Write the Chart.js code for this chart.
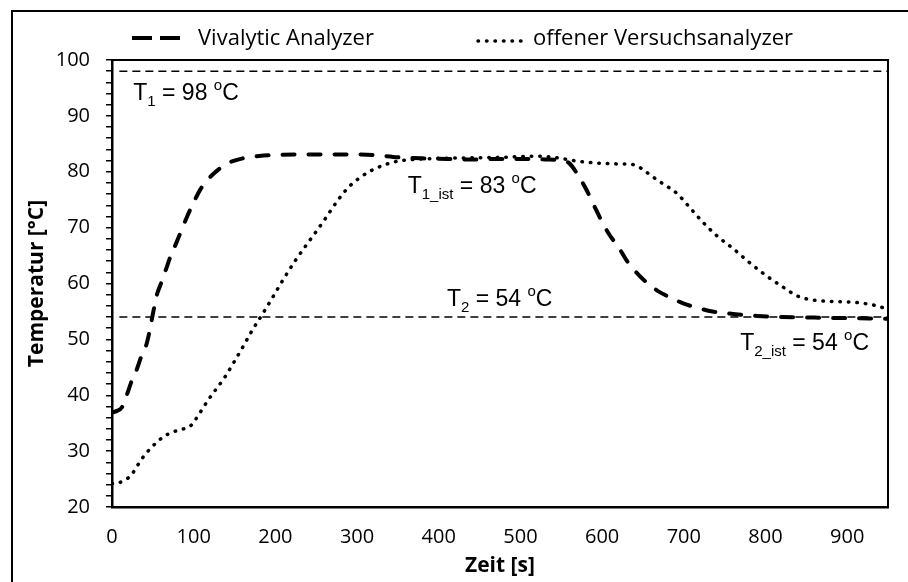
<!DOCTYPE html>
<html>
<head>
<meta charset="utf-8">
<script src="https://cdn.jsdelivr.net/npm/chart.js@4.4.1/dist/chart.umd.min.js"></script>
<style>
  html, body { margin: 0; padding: 0; background: #fff; }
</style>
</head>
<body>
<canvas id="chart_temperatur" width="908" height="582"></canvas>
<script>
// Vivalytic Analyzer (gestrichelt)
const vivTime = [0, 6, 12, 18, 24, 30, 36, 42, 46, 50, 55, 60, 66, 72, 78, 85, 92, 100, 108, 116, 124, 132, 141, 150, 160, 180, 200, 230, 260, 290, 320, 350, 380, 410, 440, 470, 500, 530, 550, 560, 570, 580, 590, 600, 610, 620, 632, 645, 656, 670, 685, 700, 718, 735, 751, 770, 790, 820, 860, 900, 950];
const vivTemp = [36.9, 37.2, 37.8, 40, 42.5, 44.5, 47, 49, 51.5, 54.5, 58, 60, 62.5, 65, 67, 69.5, 72, 74.5, 76.8, 78.4, 79.6, 80.6, 81.5, 82, 82.4, 82.8, 83, 83.1, 83.1, 83.1, 83, 82.6, 82.4, 82.3, 82.2, 82.3, 82.3, 82.2, 82, 81.5, 79.5, 77, 74, 71, 68.5, 66.5, 63.7, 61.5, 60, 58.5, 57.4, 56.4, 55.6, 55, 54.7, 54.4, 54.2, 54, 53.9, 53.8, 53.7];

// offener Versuchsanalyzer (gepunktet)
const offTime = [0, 8, 15, 23, 32, 40, 48, 58, 68, 78, 88, 96, 102, 110, 118, 128, 138, 148, 160, 172, 185, 197, 210, 224, 238, 250, 262, 275, 290, 305, 320, 335, 350, 370, 400, 440, 480, 520, 545, 565, 590, 620, 637, 648, 660, 675, 691, 705, 720, 740, 760, 780, 800, 820, 840, 860, 880, 911, 930, 941, 950];
const offTemp = [24.2, 24.3, 24.8, 25.6, 27.6, 29.3, 30.6, 32, 33, 33.6, 34, 34.5, 35.6, 37.4, 39.2, 41.2, 43.2, 45.6, 48.6, 51.7, 54.7, 57.6, 60.8, 64, 66.9, 69.3, 71.8, 74.6, 77.3, 79.1, 80.4, 81.3, 81.9, 82.2, 82.4, 82.5, 82.6, 82.8, 82.5, 82, 81.6, 81.4, 81.3, 80.6, 79.3, 77.8, 76.2, 74, 71.5, 68.6, 66.3, 63.8, 61.5, 59.5, 57.7, 57, 56.8, 56.6, 56.2, 55.8, 55.4];

// Sollwerte
const setTime = [9, 950];
const setT1 = [98, 98];
const setT2 = [54, 54];

const seriesNames = ['Vivalytic Analyzer', 'offener Versuchsanalyzer'];
const xTickLabels = [0, 100, 200, 300, 400, 500, 600, 700, 800, 900];
const yTickLabels = [20, 30, 40, 50, 60, 70, 80, 90, 100];

// Beschriftungen im Diagramm: [t, T, teile]
const notes = [
  [26, 92.8, [['T', ''], ['1', 'sub'], [' = 98 ', ''], ['o', 'sup'], ['C', '']]],
  [362, 76.2, [['T', ''], ['1_ist', 'sub'], [' = 83 ', ''], ['o', 'sup'], ['C', '']]],
  [410, 56.0, [['T', ''], ['2', 'sub'], [' = 54 ', ''], ['o', 'sup'], ['C', '']]],
  [769, 48.1, [['T', ''], ['2_ist', 'sub'], [' = 54 ', ''], ['o', 'sup'], ['C', '']]]
];

const pts = (xs, ys) => xs.map((x, i) => ({ x: x, y: ys[i] }));

const tickFont = { family: 'Open Sans', size: 20 };
const titleFont = { family: 'Open Sans', size: 21, weight: 'bold' };

function drawRich(ctx, x, y, parts) {
  let cx = x;
  parts.forEach(([txt, kind]) => {
    let dy = 0;
    if (kind === 'sub') { ctx.font = '15px "Liberation Sans"'; dy = 6; }
    else if (kind === 'sup') { ctx.font = '15px "Liberation Sans"'; dy = -10; }
    else { ctx.font = '23px "Liberation Sans"'; }
    ctx.fillText(txt, cx, y + dy);
    cx += ctx.measureText(txt).width;
  });
}

var chart_temperatur = new Chart(document.getElementById('chart_temperatur'), {
  type: 'line',
  data: {
    datasets: [
      {
        label: seriesNames[0],
        data: pts(vivTime, vivTemp),
        borderColor: '#000',
        borderWidth: 4,
        borderDash: [12, 14],
        borderCapStyle: 'round',
        pointRadius: 0,
        cubicInterpolationMode: 'monotone'
      },
      {
        label: seriesNames[1],
        data: pts(offTime, offTemp),
        borderColor: '#000',
        borderWidth: 3.5,
        borderDash: [0.5, 8],
        borderCapStyle: 'round',
        pointRadius: 0,
        cubicInterpolationMode: 'monotone'
      },
      {
        label: 'T1',
        data: pts(setTime, setT1),
        borderColor: '#000',
        borderWidth: 1.5,
        borderDash: [8, 5],
        pointRadius: 0
      },
      {
        label: 'T2',
        data: pts(setTime, setT2),
        borderColor: '#000',
        borderWidth: 1.5,
        borderDash: [8, 5],
        pointRadius: 0
      }
    ]
  },
  options: {
    animation: false,
    responsive: false,
    layout: { padding: { top: 60, right: 20, left: 0, bottom: 0 } },
    plugins: {
      legend: { display: false },
      tooltip: { enabled: false }
    },
    scales: {
      x: {
        type: 'linear',
        min: 0,
        max: 950,
        grid: { display: false, drawTicks: false },
        border: { display: true, color: '#000', width: 2.5 },
        afterBuildTicks: (scale) => { scale.ticks = xTickLabels.map(v => ({ value: v })); },
        ticks: {
          autoSkip: false,
          maxRotation: 0,
          padding: 18,
          color: '#000',
          font: tickFont,
          callback: (v) => String(v)
        },
        title: {
          display: true,
          text: 'Zeit [s]',
          color: '#000',
          font: titleFont,
          padding: { top: 0, bottom: 3 }
        },
        afterFit: (scale) => { scale.height = 75; }
      },
      y: {
        type: 'linear',
        min: 20,
        max: 100,
        grid: { display: true, drawOnChartArea: false, drawTicks: true, tickLength: 6, color: '#000', lineWidth: 1.5 },
        border: { display: true, color: '#000', width: 2.5 },
        ticks: {
          stepSize: 2,
          autoSkip: false,
          padding: 16,
          color: '#000',
          font: tickFont,
          callback: (v) => yTickLabels.includes(v) ? String(v) : ''
        },
        title: {
          display: true,
          text: 'Temperatur [°C]',
          color: '#000',
          font: titleFont,
          padding: { top: 24, bottom: 0 }
        },
        afterFit: (scale) => { scale.width = 112; }
      }
    }
  },
  plugins: [{
    id: 'rahmenUndText',
    beforeDraw: (chart) => {
      const ctx = chart.ctx;
      ctx.save();
      ctx.fillStyle = 'white';
      ctx.fillRect(0, 0, chart.width, chart.height);
      ctx.restore();
    },
    afterDraw: (chart) => {
      const ctx = chart.ctx;
      const a = chart.chartArea;
      const xs = chart.scales.x, ys = chart.scales.y;
      ctx.save();
      ctx.strokeStyle = '#000';
      // Rahmen der Abbildung
      ctx.lineWidth = 2;
      ctx.beginPath();
      ctx.moveTo(12, chart.height);
      ctx.lineTo(12, 11);
      ctx.lineTo(chart.width, 11);
      ctx.stroke();
      // Rahmen des Plotbereichs
      ctx.lineWidth = 2;
      ctx.strokeRect(a.left, a.top, a.right - a.left, a.bottom - a.top);

      // Legende
      ctx.fillStyle = '#000';
      ctx.textBaseline = 'alphabetic';
      ctx.textAlign = 'left';
      ctx.font = '22px "Open Sans"';
      const ly = 38;
      ctx.lineWidth = 4;
      ctx.setLineDash([20, 8]);
      ctx.beginPath();
      ctx.moveTo(132, ly);
      ctx.lineTo(180, ly);
      ctx.stroke();
      ctx.fillText(seriesNames[0], 198, 45);
      ctx.lineWidth = 3.5;
      ctx.lineCap = 'round';
      ctx.setLineDash([0.5, 8]);
      ctx.beginPath();
      ctx.moveTo(478, ly + 3);
      ctx.lineTo(528, ly + 3);
      ctx.stroke();
      ctx.setLineDash([]);
      ctx.fillText(seriesNames[1], 533, 45);

      // Beschriftungen
      notes.forEach(([t, T, parts]) => {
        drawRich(ctx, xs.getPixelForValue(t), ys.getPixelForValue(T), parts);
      });
      ctx.restore();
    }
  }]
});
</script>
</body>
</html>
